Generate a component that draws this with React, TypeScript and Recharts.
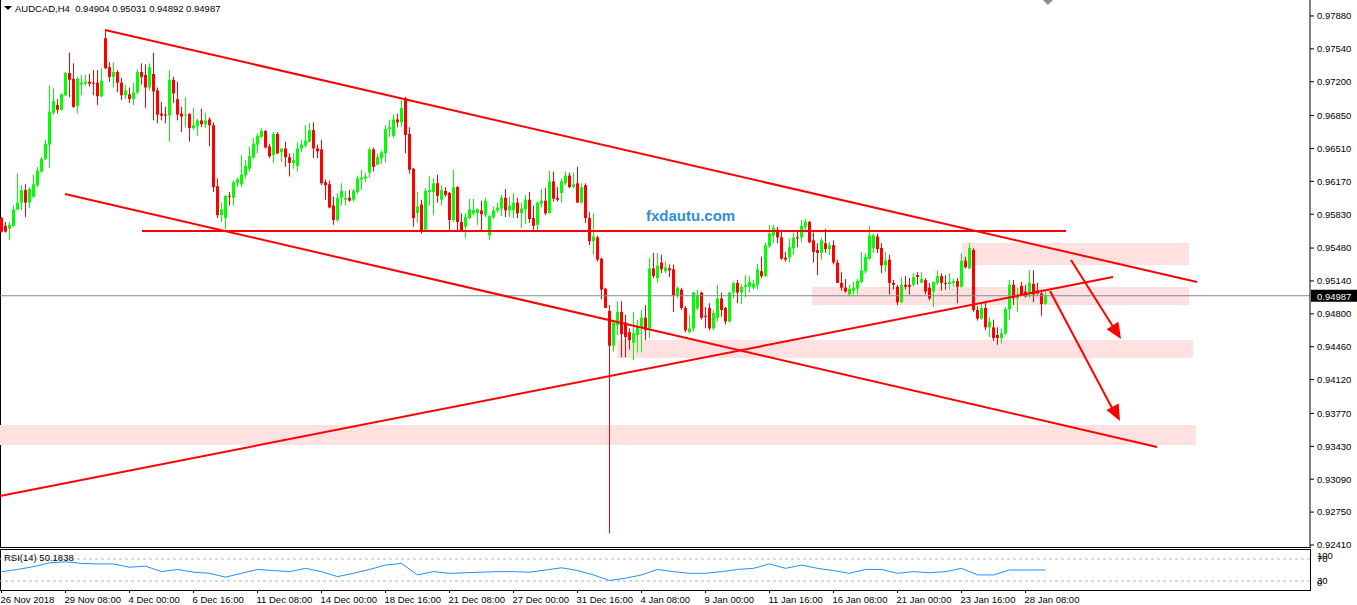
import React from 'react';
import { ComposedChart, Bar, Line, XAxis, YAxis, ReferenceLine, ReferenceArea, ReferenceDot } from 'recharts';

// AUDCAD H4 candles
const opens = [
  0.9579, 0.9571, 0.9568, 0.9571, 0.9588, 0.9595, 0.9608, 0.9595, 0.9601, 0.9613, 0.9627, 0.9640, 0.9655, 0.9688, 0.9696, 0.9691,
  0.9706, 0.9729, 0.9723, 0.9695, 0.9717, 0.9718, 0.9720, 0.9719, 0.9719, 0.9705, 0.9765, 0.9735, 0.9725, 0.9730, 0.9719, 0.9706,
  0.9707, 0.9702, 0.9709, 0.9730, 0.9727, 0.9714, 0.9728, 0.9711, 0.9687, 0.9686, 0.9685, 0.9722, 0.9702, 0.9687, 0.9685, 0.9687,
  0.9672, 0.9674, 0.9680, 0.9676, 0.9681, 0.9675, 0.9612, 0.9582, 0.9579, 0.9602, 0.9600, 0.9615, 0.9614, 0.9623, 0.9630, 0.9642,
  0.9655, 0.9663, 0.9669, 0.9653, 0.9644, 0.9666, 0.9647, 0.9651, 0.9642, 0.9636, 0.9633, 0.9651, 0.9654, 0.9658, 0.9670, 0.9651,
  0.9650, 0.9616, 0.9614, 0.9592, 0.9577, 0.9600, 0.9598, 0.9600, 0.9598, 0.9606, 0.9619, 0.9620, 0.9626, 0.9650, 0.9634, 0.9641,
  0.9646, 0.9671, 0.9664, 0.9681, 0.9678, 0.9703, 0.9666, 0.9630, 0.9584, 0.9593, 0.9567, 0.9606, 0.9606, 0.9615, 0.9598, 0.9607,
  0.9605, 0.9577, 0.9611, 0.9575, 0.9570, 0.9579, 0.9584, 0.9584, 0.9587, 0.9582, 0.9561, 0.9580, 0.9587, 0.9589, 0.9600, 0.9587,
  0.9587, 0.9595, 0.9584, 0.9588, 0.9598, 0.9579, 0.9572, 0.9594, 0.9597, 0.9584, 0.9617, 0.9600, 0.9605, 0.9615, 0.9623, 0.9611,
  0.9615, 0.9595, 0.9613, 0.9579, 0.9555, 0.9559, 0.9537, 0.9506, 0.9483, 0.9447, 0.9468, 0.9482, 0.9471, 0.9461, 0.9450, 0.9458,
  0.9466, 0.9476, 0.9465, 0.9527, 0.9517, 0.9533, 0.9524, 0.9527, 0.9526, 0.9499, 0.9505, 0.9486, 0.9461, 0.9465, 0.9486, 0.9502,
  0.9478, 0.9486, 0.9465, 0.9476, 0.9496, 0.9486, 0.9472, 0.9502, 0.9512, 0.9502, 0.9508, 0.9508, 0.9507, 0.9510, 0.9524, 0.9519,
  0.9550, 0.9561, 0.9567, 0.9559, 0.9538, 0.9538, 0.9548, 0.9559, 0.9559, 0.9570, 0.9575, 0.9556, 0.9546, 0.9543, 0.9553, 0.9547,
  0.9551, 0.9533, 0.9512, 0.9507, 0.9500, 0.9504, 0.9506, 0.9513, 0.9524, 0.9537, 0.9548, 0.9560, 0.9548, 0.9530, 0.9536, 0.9512,
  0.9508, 0.9492, 0.9510, 0.9510, 0.9510, 0.9520, 0.9512, 0.9515, 0.9507, 0.9503, 0.9512, 0.9519, 0.9512, 0.9511, 0.9512, 0.9514,
  0.9508, 0.9535, 0.9527, 0.9546, 0.9484, 0.9475, 0.9486, 0.9466, 0.9466, 0.9458, 0.9455, 0.9460, 0.9485, 0.9510, 0.9496, 0.9509,
  0.9503, 0.9500, 0.9511, 0.9504, 0.9501, 0.94904,
];
const highs = [
  0.9580, 0.9575, 0.9575, 0.9592, 0.9625, 0.9613, 0.9614, 0.9611, 0.9624, 0.9632, 0.9642, 0.9660, 0.9716, 0.9713, 0.9702, 0.9708,
  0.9730, 0.9750, 0.9739, 0.9725, 0.9727, 0.9727, 0.9728, 0.9732, 0.9732, 0.9734, 0.9774, 0.9740, 0.9740, 0.9732, 0.9724, 0.9717,
  0.9714, 0.9719, 0.9733, 0.9739, 0.9738, 0.9739, 0.9750, 0.9714, 0.9699, 0.9694, 0.9732, 0.9725, 0.9720, 0.9694, 0.9704, 0.9687,
  0.9693, 0.9682, 0.9692, 0.9688, 0.9683, 0.9678, 0.9620, 0.9595, 0.9603, 0.9606, 0.9618, 0.9621, 0.9644, 0.9639, 0.9653, 0.9662,
  0.9667, 0.9672, 0.9670, 0.9656, 0.9668, 0.9668, 0.9651, 0.9658, 0.9646, 0.9646, 0.9657, 0.9660, 0.9675, 0.9677, 0.9678, 0.9655,
  0.9660, 0.9619, 0.9618, 0.9601, 0.9605, 0.9615, 0.9607, 0.9608, 0.9609, 0.9623, 0.9629, 0.9626, 0.9652, 0.9652, 0.9646, 0.9649,
  0.9675, 0.9681, 0.9686, 0.9687, 0.9701, 0.9704, 0.9673, 0.9631, 0.9606, 0.9598, 0.9610, 0.9622, 0.9620, 0.9624, 0.9613, 0.9611,
  0.9606, 0.9629, 0.9612, 0.9584, 0.9584, 0.9599, 0.9599, 0.9589, 0.9597, 0.9600, 0.9582, 0.9591, 0.9595, 0.9603, 0.9609, 0.9601,
  0.9605, 0.9600, 0.9595, 0.9603, 0.9606, 0.9592, 0.9596, 0.9609, 0.9610, 0.9628, 0.9627, 0.9611, 0.9620, 0.9627, 0.9626, 0.9626,
  0.9632, 0.9615, 0.9615, 0.9585, 0.9584, 0.9561, 0.9538, 0.9507, 0.9489, 0.9474, 0.9493, 0.9493, 0.9479, 0.9465, 0.9482, 0.9474,
  0.9484, 0.9489, 0.9538, 0.9543, 0.9543, 0.9541, 0.9534, 0.9531, 0.9531, 0.9508, 0.9507, 0.9488, 0.9479, 0.9503, 0.9505, 0.9503,
  0.9487, 0.9491, 0.9484, 0.9510, 0.9502, 0.9487, 0.9503, 0.9513, 0.9515, 0.9511, 0.9520, 0.9519, 0.9515, 0.9532, 0.9539, 0.9554,
  0.9572, 0.9572, 0.9570, 0.9567, 0.9544, 0.9558, 0.9564, 0.9567, 0.9577, 0.9578, 0.9576, 0.9564, 0.9553, 0.9559, 0.9568, 0.9554,
  0.9556, 0.9536, 0.9523, 0.9516, 0.9510, 0.9513, 0.9516, 0.9544, 0.9543, 0.9571, 0.9563, 0.9563, 0.9553, 0.9544, 0.9541, 0.9515,
  0.9510, 0.9518, 0.9519, 0.9517, 0.9522, 0.9523, 0.9523, 0.9517, 0.9512, 0.9513, 0.9525, 0.9522, 0.9520, 0.9522, 0.9516, 0.9517,
  0.9543, 0.9539, 0.9553, 0.9548, 0.9488, 0.9491, 0.9492, 0.9477, 0.9474, 0.9466, 0.9465, 0.9487, 0.9515, 0.9515, 0.9507, 0.9513,
  0.9510, 0.9525, 0.9525, 0.9512, 0.9505, 0.95031,
];
const lows = [
  0.9564, 0.9564, 0.9556, 0.9570, 0.9587, 0.9587, 0.9580, 0.9589, 0.9600, 0.9611, 0.9626, 0.9639, 0.9631, 0.9686, 0.9687, 0.9690,
  0.9705, 0.9704, 0.9693, 0.9687, 0.9706, 0.9716, 0.9715, 0.9706, 0.9696, 0.9704, 0.9733, 0.9720, 0.9714, 0.9709, 0.9701, 0.9702,
  0.9698, 0.9696, 0.9707, 0.9717, 0.9693, 0.9711, 0.9680, 0.9677, 0.9680, 0.9677, 0.9658, 0.9698, 0.9680, 0.9668, 0.9673, 0.9658,
  0.9670, 0.9664, 0.9673, 0.9672, 0.9653, 0.9606, 0.9579, 0.9575, 0.9567, 0.9592, 0.9592, 0.9611, 0.9611, 0.9620, 0.9627, 0.9640,
  0.9646, 0.9662, 0.9651, 0.9641, 0.9636, 0.9645, 0.9637, 0.9632, 0.9622, 0.9630, 0.9627, 0.9647, 0.9652, 0.9657, 0.9641, 0.9641,
  0.9613, 0.9598, 0.9589, 0.9572, 0.9575, 0.9592, 0.9592, 0.9596, 0.9596, 0.9604, 0.9608, 0.9616, 0.9621, 0.9627, 0.9634, 0.9635,
  0.9636, 0.9663, 0.9662, 0.9673, 0.9673, 0.9646, 0.9625, 0.9570, 0.9574, 0.9563, 0.9566, 0.9592, 0.9582, 0.9595, 0.9592, 0.9601,
  0.9566, 0.9575, 0.9566, 0.9565, 0.9558, 0.9578, 0.9582, 0.9572, 0.9566, 0.9580, 0.9556, 0.9578, 0.9585, 0.9581, 0.9580, 0.9580,
  0.9579, 0.9579, 0.9569, 0.9573, 0.9574, 0.9567, 0.9566, 0.9590, 0.9582, 0.9584, 0.9596, 0.9596, 0.9595, 0.9613, 0.9610, 0.9610,
  0.9595, 0.9594, 0.9574, 0.9551, 0.9541, 0.9534, 0.9495, 0.9486, 0.9253, 0.9441, 0.9458, 0.9435, 0.9435, 0.9443, 0.9432, 0.9440,
  0.9440, 0.9453, 0.9455, 0.9517, 0.9512, 0.9522, 0.9522, 0.9518, 0.9482, 0.9496, 0.9484, 0.9461, 0.9460, 0.9462, 0.9484, 0.9474,
  0.9465, 0.9463, 0.9463, 0.9472, 0.9477, 0.9469, 0.9471, 0.9496, 0.9491, 0.9490, 0.9497, 0.9502, 0.9505, 0.9505, 0.9517, 0.9518,
  0.9548, 0.9553, 0.9553, 0.9536, 0.9534, 0.9533, 0.9541, 0.9549, 0.9554, 0.9564, 0.9553, 0.9533, 0.9520, 0.9536, 0.9543, 0.9541,
  0.9531, 0.9512, 0.9504, 0.9502, 0.9498, 0.9500, 0.9500, 0.9512, 0.9522, 0.9536, 0.9543, 0.9543, 0.9522, 0.9523, 0.9500, 0.9505,
  0.9489, 0.9491, 0.9505, 0.9500, 0.9508, 0.9510, 0.9512, 0.9500, 0.9494, 0.9487, 0.9510, 0.9504, 0.9505, 0.9505, 0.9508, 0.9491,
  0.9507, 0.9527, 0.9526, 0.9482, 0.9473, 0.9474, 0.9463, 0.9456, 0.9452, 0.9448, 0.9449, 0.9458, 0.9474, 0.9489, 0.9482, 0.9500,
  0.9497, 0.9496, 0.9492, 0.9500, 0.9478, 0.94892,
];
const closes = [
  0.9565, 0.9565, 0.9572, 0.9588, 0.9595, 0.9608, 0.9595, 0.9609, 0.9614, 0.9628, 0.9640, 0.9656, 0.9689, 0.9700, 0.9691, 0.9707,
  0.9729, 0.9722, 0.9694, 0.9723, 0.9719, 0.9720, 0.9718, 0.9718, 0.9705, 0.9721, 0.9734, 0.9725, 0.9730, 0.9719, 0.9706, 0.9711,
  0.9702, 0.9709, 0.9730, 0.9725, 0.9714, 0.9735, 0.9710, 0.9686, 0.9685, 0.9685, 0.9722, 0.9708, 0.9686, 0.9684, 0.9686, 0.9672,
  0.9675, 0.9680, 0.9676, 0.9680, 0.9675, 0.9611, 0.9582, 0.9588, 0.9602, 0.9601, 0.9616, 0.9619, 0.9624, 0.9633, 0.9643, 0.9656,
  0.9664, 0.9669, 0.9652, 0.9643, 0.9666, 0.9646, 0.9651, 0.9642, 0.9636, 0.9639, 0.9651, 0.9655, 0.9659, 0.9670, 0.9651, 0.9648,
  0.9615, 0.9613, 0.9590, 0.9577, 0.9600, 0.9607, 0.9600, 0.9597, 0.9607, 0.9620, 0.9621, 0.9622, 0.9650, 0.9632, 0.9642, 0.9647,
  0.9671, 0.9673, 0.9681, 0.9678, 0.9693, 0.9665, 0.9629, 0.9579, 0.9591, 0.9566, 0.9607, 0.9608, 0.9615, 0.9602, 0.9608, 0.9603,
  0.9577, 0.9611, 0.9575, 0.9566, 0.9580, 0.9588, 0.9587, 0.9588, 0.9583, 0.9597, 0.9581, 0.9587, 0.9590, 0.9600, 0.9587, 0.9592,
  0.9595, 0.9584, 0.9589, 0.9598, 0.9578, 0.9571, 0.9595, 0.9597, 0.9584, 0.9617, 0.9599, 0.9598, 0.9617, 0.9623, 0.9611, 0.9614,
  0.9595, 0.9611, 0.9579, 0.9555, 0.9560, 0.9536, 0.9505, 0.9486, 0.9447, 0.9471, 0.9482, 0.9459, 0.9456, 0.9453, 0.9460, 0.9467,
  0.9476, 0.9463, 0.9527, 0.9519, 0.9530, 0.9526, 0.9528, 0.9525, 0.9499, 0.9507, 0.9486, 0.9463, 0.9465, 0.9502, 0.9499, 0.9476,
  0.9477, 0.9465, 0.9481, 0.9496, 0.9484, 0.9472, 0.9502, 0.9512, 0.9502, 0.9508, 0.9510, 0.9513, 0.9511, 0.9526, 0.9519, 0.9551,
  0.9563, 0.9569, 0.9559, 0.9537, 0.9536, 0.9549, 0.9559, 0.9558, 0.9571, 0.9575, 0.9554, 0.9544, 0.9543, 0.9556, 0.9547, 0.9551,
  0.9533, 0.9512, 0.9507, 0.9503, 0.9506, 0.9507, 0.9514, 0.9525, 0.9539, 0.9561, 0.9561, 0.9547, 0.9530, 0.9535, 0.9512, 0.9510,
  0.9492, 0.9510, 0.9508, 0.9508, 0.9518, 0.9518, 0.9516, 0.9503, 0.9496, 0.9513, 0.9519, 0.9512, 0.9511, 0.9513, 0.9514, 0.9508,
  0.9535, 0.9528, 0.9548, 0.9484, 0.9475, 0.9486, 0.9466, 0.9472, 0.9455, 0.9455, 0.9460, 0.9485, 0.9510, 0.9496, 0.9498, 0.9500,
  0.9498, 0.9512, 0.9500, 0.9501, 0.9490, 0.94987,
];

// RSI(14) read every 4th bar
const rsiBars = [
  0, 4, 8, 12, 16, 20, 24, 28, 32, 36, 40, 44, 48, 52, 56, 60, 64, 68, 72, 76, 80, 84, 88, 92, 96, 100, 104, 108, 112, 116,
  120, 124, 128, 132, 136, 140, 144, 148, 152, 156, 160, 164, 168, 172, 176, 180, 184, 188, 192, 196, 200, 204, 208, 212,
  216, 220, 224, 228, 232, 236, 240, 244, 248, 252, 256, 261,
];
const rsiValues = [
  47, 51, 56, 63, 65, 62, 61, 61, 55, 57, 47, 51, 46, 44, 37, 44, 51, 49, 47, 53, 47, 38, 44, 51, 59, 62, 41, 47, 44, 45,
  46, 47, 47, 46, 50, 54, 49, 41, 31, 35, 41, 51, 47, 44, 44, 47, 51, 53, 61, 53, 59, 53, 49, 44,
  51, 51, 44, 47, 45, 47, 53, 41, 41, 50, 50, 50.1838,
];

const priceTicks = [
  0.9788, 0.9754, 0.972, 0.9685, 0.9651, 0.9617, 0.9583, 0.9548, 0.9514, 0.948, 0.9446, 0.9412, 0.9377, 0.9343, 0.9309,
  0.9275, 0.9241,
];
const rsiTicks = [0, 30, 70, 100];
const timeTickBars = [0, 16, 32, 48, 64, 80, 96, 112, 128, 144, 160, 176, 192, 208, 224, 240, 256];
const timeLabels = [
  '26 Nov 2018', '29 Nov 08:00', '4 Dec 00:00', '6 Dec 16:00', '11 Dec 08:00', '14 Dec 00:00', '18 Dec 16:00',
  '21 Dec 08:00', '27 Dec 00:00', '31 Dec 16:00', '4 Jan 08:00', '9 Jan 00:00', '11 Jan 16:00', '16 Jan 08:00',
  '21 Jan 00:00', '23 Jan 16:00', '28 Jan 08:00',
];

const lastPrice = 0.94987;
const xDomain = [-0.375, 327.125];
const yDomain = [0.92389, 0.98045];
const FONT = '"Liberation Sans", Arial, sans-serif';
const RED = '#ff0000';
const ZONE = '#ffe1e1';

const candles = opens.map((o, i) => ({
  i,
  open: o,
  high: highs[i],
  low: lows[i],
  close: closes[i],
  range: [Math.min(lows[i], o, closes[i]), Math.max(highs[i], o, closes[i])],
}));
const rsiData = rsiBars.map((b, k) => ({ i: b, rsi: rsiValues[k] }));

const Candle = (props: any) => {
  const { x, y, width, height, payload } = props;
  const [lo, hi] = payload.range;
  const k = hi - lo === 0 ? 0 : height / (hi - lo);
  const yo = y + (hi - payload.open) * k;
  const yc = y + (hi - payload.close) * k;
  const color = payload.close >= payload.open ? '#00ff00' : '#ff0000';
  const cx = Math.round(x + width / 2) + 0.5;
  return (
    <g>
      <line x1={cx} x2={cx} y1={y} y2={y + height} stroke={color} strokeWidth={1} />
      <rect x={cx - 1.5} y={Math.min(yo, yc)} width={3} height={Math.max(1, Math.abs(yo - yc))} fill={color} />
    </g>
  );
};

// arrow head: tip at (cx, cy), pointing along (dx, dy)
const arrowHead = (dx: number, dy: number) => (props: any) => {
  const { cx, cy } = props;
  const len = Math.hypot(dx, dy);
  const ux = dx / len;
  const uy = dy / len;
  const bx = cx - ux * 16;
  const by = cy - uy * 16;
  const pts = `${cx},${cy} ${bx - uy * 7},${by + ux * 7} ${bx + uy * 7},${by - ux * 7}`;
  return <polygon points={pts} fill={RED} />;
};

const shiftMarker = (props: any) => {
  const { cx, cy } = props;
  return <polygon points={`${cx - 5},${cy} ${cx + 5},${cy} ${cx},${cy + 5}`} fill="#8c8c8c" />;
};

const PriceTag = (props: any) => {
  const { viewBox } = props;
  const x = viewBox.x + viewBox.width + 1;
  const y = viewBox.y;
  return (
    <g>
      <rect x={x} y={y - 6} width={46} height={12} fill="#000" />
      <text x={x + 6} y={y + 4} fill="#fff" fontSize={9.5} fontFamily={FONT}>
        {lastPrice.toFixed(5)}
      </text>
    </g>
  );
};

const TimeTick = (props: any) => {
  const { x, y, payload } = props;
  const idx = timeTickBars.indexOf(payload.value);
  return (
    <text x={x - 1} y={y + 8} fontSize={9.5} fontFamily={FONT} fill="#000" textAnchor="start">
      {timeLabels[idx]}
    </text>
  );
};

// MT4 pins the 100 / 0 labels to the window edges
const RsiTick = (props: any) => {
  const { x, y, payload } = props;
  let yy = y;
  if (payload.value === 100) yy = 7;
  if (payload.value === 0) yy = 34;
  return (
    <text x={x} y={yy + 3} fontSize={9.5} fontFamily={FONT} fill="#000" textAnchor="start">
      {payload.value}
    </text>
  );
};

const App: React.FC = () => {
  return (
    <div style={{ position: 'absolute', left: 0, top: 0, width: 1357, height: 605, background: '#fff', fontFamily: FONT }}>
      <div style={{ position: 'absolute', left: 0, top: 0, width: 1311, height: 548, borderLeft: '1px solid #000', borderBottom: '1px solid #000', boxSizing: 'border-box' }} />
      <div style={{ position: 'absolute', left: 0, top: 549, width: 1311, height: 42, border: '1px solid #000', boxSizing: 'border-box' }} />

      <div style={{ position: 'absolute', left: 0, top: 0 }}>
        <ComposedChart width={1357} height={553} data={candles} margin={{ top: 0, right: 0, bottom: 6, left: 0 }}>
          <XAxis dataKey="i" type="number" domain={xDomain} hide allowDataOverflow />
          <YAxis
            orientation="right"
            width={47}
            type="number"
            domain={yDomain}
            ticks={priceTicks}
            allowDataOverflow
            interval={0}
            tickFormatter={(v: number) => v.toFixed(5)}
            tick={{ fontSize: 9.5, fill: '#000', fontFamily: FONT }}
            tickSize={4}
            tickMargin={3}
            axisLine={{ stroke: '#000' }}
            tickLine={{ stroke: '#000' }}
          />
          <ReferenceArea x1={240.1} x2={296.9} y1={0.95305} y2={0.95532} fill={ZONE} fillOpacity={1} stroke="none" />
          <ReferenceArea x1={202.6} x2={296.9} y1={0.94891} y2={0.95077} fill={ZONE} fillOpacity={1} stroke="none" />
          <ReferenceArea x1={153.9} x2={297.9} y1={0.94343} y2={0.94529} fill={ZONE} fillOpacity={1} stroke="none" />
          <ReferenceArea x1={-0.375} x2={298.6} y1={0.93444} y2={0.9365} fill={ZONE} fillOpacity={1} stroke="none" />
          <ReferenceLine y={lastPrice} stroke="#7f8b99" strokeWidth={1} label={<PriceTag />} />
          <Bar dataKey="range" barSize={3} shape={<Candle />} isAnimationActive={false} />
          <ReferenceLine segment={[{ x: 25.875, y: 0.97735 }, { x: 298.875, y: 0.95129 }]} stroke={RED} strokeWidth={2} ifOverflow="visible" />
          <ReferenceLine segment={[{ x: 15.875, y: 0.96039 }, { x: 288.875, y: 0.93423 }]} stroke={RED} strokeWidth={2} ifOverflow="visible" />
          <ReferenceLine segment={[{ x: 35.125, y: 0.95656 }, { x: 266.125, y: 0.95656 }]} stroke={RED} strokeWidth={2} ifOverflow="visible" />
          <ReferenceLine segment={[{ x: -0.375, y: 0.92916 }, { x: 277.875, y: 0.95181 }]} stroke={RED} strokeWidth={2} ifOverflow="visible" />
          <ReferenceLine segment={[{ x: 267.375, y: 0.95357 }, { x: 278.875, y: 0.94602 }]} stroke={RED} strokeWidth={2} ifOverflow="visible" />
          <ReferenceLine segment={[{ x: 262.125, y: 0.95036 }, { x: 277.625, y: 0.93826 }]} stroke={RED} strokeWidth={2} ifOverflow="visible" />
          <ReferenceDot x={279.875} y={0.9454} r={1} shape={arrowHead(49, 78)} ifOverflow="visible" />
          <ReferenceDot x={279.625} y={0.93692} r={1} shape={arrowHead(62, 117)} ifOverflow="visible" />
          <ReferenceDot x={261.6} y={yDomain[1]} r={1} shape={shiftMarker} ifOverflow="visible" />
        </ComposedChart>
      </div>

      <div style={{ position: 'absolute', left: 0, top: 549 }}>
        <ComposedChart width={1357} height={56} data={rsiData} margin={{ top: 1, right: 0, bottom: 0, left: 0 }}>
          <XAxis
            dataKey="i"
            type="number"
            domain={xDomain}
            ticks={timeTickBars}
            interval={0}
            allowDataOverflow
            height={15}
            axisLine={false}
            tickSize={3}
            tickLine={{ stroke: '#000' }}
            tick={<TimeTick />}
          />
          <YAxis
            orientation="right"
            width={47}
            type="number"
            domain={[13.6, 86.4]}
            ticks={rsiTicks}
            interval={0}
            allowDataOverflow
            axisLine={false}
            tickSize={4}
            tickMargin={3}
            tickLine={false}
            tick={<RsiTick />}
          />
          <ReferenceLine y={70} stroke="#b4b4b4" strokeDasharray="3 3" />
          <ReferenceLine y={30} stroke="#b4b4b4" strokeDasharray="3 3" />
          <Line dataKey="rsi" type="linear" stroke="#1e90ff" strokeWidth={1} dot={false} isAnimationActive={false} />
        </ComposedChart>
      </div>

      <div style={{ position: 'absolute', left: 15, top: 3, fontSize: 9.5, whiteSpace: 'pre', color: '#000' }}>
        AUDCAD,H4  0.94904 0.95031 0.94892 0.94987
      </div>
      <div style={{ position: 'absolute', left: 4, top: 6, width: 0, height: 0, borderLeft: '4px solid transparent', borderRight: '4px solid transparent', borderTop: '4px solid #000' }} />
      <div style={{ position: 'absolute', left: 4, top: 552, fontSize: 9.5, color: '#000' }}>RSI(14) 50.1838</div>
      <div style={{ position: 'absolute', left: 646, top: 207, fontSize: 15, fontWeight: 'bold', color: '#2d8fd5', fontFamily: FONT }}>
        fxdautu.com
      </div>
    </div>
  );
};

export default App;
